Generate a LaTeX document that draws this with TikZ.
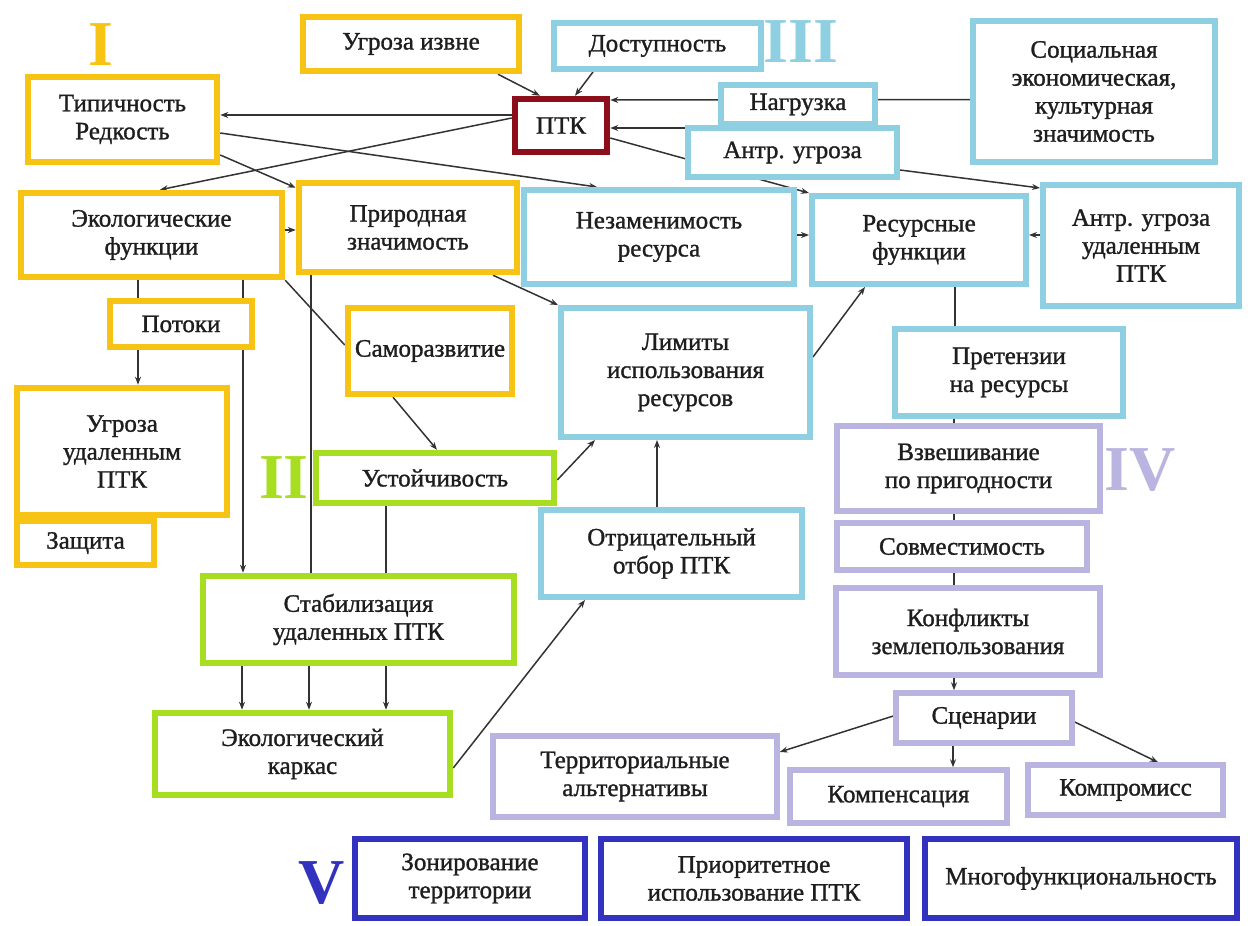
\documentclass[tikz,border=0pt]{standalone}
\usepackage{fontspec}
\setmainfont{Liberation Serif}
\newfontfamily\boxfont[FakeBold=1.2]{Liberation Serif}
\usetikzlibrary{arrows.meta}
\definecolor{cYel}{RGB}{247,196,22}
\definecolor{cGrn}{RGB}{168,222,34}
\definecolor{cLbl}{RGB}{142,207,226}
\definecolor{cLav}{RGB}{186,180,224}
\definecolor{cDbl}{RGB}{50,50,190}
\definecolor{cRed}{RGB}{140,14,26}
\definecolor{cTxt}{RGB}{30,30,30}
\pgfdeclarelayer{bg}
\pgfsetlayers{bg,main}
\newcommand\txtsize{\boxfont\fontsize{25}{28}\selectfont}
\newcommand\mkbox[7]{\node[#6, minimum width={#4-#2-6}, minimum height={#5-#3-6}] (#1) at ({(#2+#4)/2},{(#3+#5)/2}) {#7};}
\tikzset{
  base/.style={draw, fill=white, align=center, inner sep=1pt, font=\txtsize, text=cTxt},
  yel/.style={base, draw=cYel, line width=6.5pt},
  grn/.style={base, draw=cGrn, line width=6.5pt},
  lbl/.style={base, draw=cLbl, line width=6pt},
  lav/.style={base, draw=cLav, line width=5.5pt},
  dbl/.style={base, draw=cDbl, line width=5.5pt},
  red/.style={base, draw=cRed, line width=6.5pt},
  conn/.style={line width=1.5pt, draw=black!80},
  arr/.style={conn, -{Stealth[length=8pt,width=6pt]}},
  roman/.style={font=\bfseries\fontsize{64}{64}\selectfont, inner sep=0pt}
}
\begin{document}
\begin{tikzpicture}[x=1pt,y=-1pt]
\useasboundingbox (0,0) rectangle (1248,926);
% Group I
\mkbox{ugr}{300}{14}{522}{74}{yel}{Угроза извне}
\mkbox{tip}{25}{74}{220}{165}{yel}{Типичность\\Редкость}
\mkbox{eko}{18}{190}{285}{280}{yel}{Экологические\\функции}
\mkbox{pri}{296}{180}{520}{275}{yel}{Природная\\значимость}
\mkbox{pot}{107}{298}{255}{350}{yel}{Потоки}
\mkbox{sam}{345}{305}{515}{397}{yel}{Саморазвитие}
\mkbox{ugu}{14}{385}{230}{518}{yel}{Угроза\\удаленным\\ПТК}
\mkbox{zas}{14}{518}{157}{568}{yel}{Защита}
% Group II
\mkbox{ust}{313}{450}{557}{506}{grn}{Устойчивость}
\mkbox{sta}{200}{573}{517}{666}{grn}{Стабилизация\\удаленных ПТК}
\mkbox{kar}{152}{710}{453}{798}{grn}{Экологический\\каркас}
% center
\mkbox{ptk}{512}{96}{610}{155}{red}{ПТК}
% Group III
\mkbox{dos}{551}{20}{764}{72}{lbl}{Доступность}
\mkbox{ant}{685}{125}{900}{180}{lbl}{Антр. угроза}
\mkbox{nag}{718}{82}{878}{127}{lbl}{Нагрузка}
\mkbox{soc}{970}{18}{1218}{165}{lbl}{Социальная\\экономическая,\\культурная\\значимость}
\mkbox{nez}{521}{187}{797}{287}{lbl}{Незаменимость\\ресурса}
\mkbox{res}{809}{193}{1029}{287}{lbl}{Ресурсные\\функции}
\mkbox{auu}{1040}{182}{1242}{309}{lbl}{Антр. угроза\\удаленным\\ПТК}
\mkbox{lim}{558}{305}{813}{440}{lbl}{Лимиты\\использования\\ресурсов}
\mkbox{pre}{892}{326}{1126}{419}{lbl}{Претензии\\на ресурсы}
\mkbox{otr}{538}{507}{805}{600}{lbl}{Отрицательный\\отбор ПТК}
% Group IV
\mkbox{vzv}{834}{423}{1103}{514}{lav}{Взвешивание\\по пригодности}
\mkbox{sov}{834}{520}{1090}{573}{lav}{Совместимость}
\mkbox{kon}{833}{585}{1103}{678}{lav}{Конфликты\\землепользования}
\mkbox{sce}{893}{690}{1075}{746}{lav}{Сценарии}
\mkbox{ter}{490}{733}{780}{820}{lav}{Территориальные\\альтернативы}
\mkbox{kom}{787}{767}{1010}{826}{lav}{Компенсация}
\mkbox{kmp}{1025}{762}{1226}{818}{lav}{Компромисс}
% Group V
\mkbox{zon}{352}{836}{588}{921}{dbl}{Зонирование\\территории}
\mkbox{pri2}{598}{836}{910}{921}{dbl}{Приоритетное\\использование ПТК}
\mkbox{mno}{922}{836}{1240}{921}{dbl}{Многофункциональность}
% Roman numerals
\node[roman, text=cYel] (rI) at (101,45) {I};
\node[roman, text=cGrn] (rII) at (284,478) {II};
\node[roman, text=cLbl] (rIII) at (801,42) {III};
\node[roman, text=cLav] (rIV) at (1140,470) {IV};
\node[roman, text=cDbl] (rV) at (322,883) {V};
\begin{pgfonlayer}{bg}
\draw[arr] ([xshift=87pt]ugr.south) -- ([xshift=-21pt]ptk.north);
\draw[arr] ([xshift=-64.5pt]dos.south) -- ([xshift=14pt]ptk.north);
\draw[arr] ([yshift=-8pt]soc.west) -- ([yshift=25.5pt]ptk.east);
\draw[arr] ([yshift=24.5pt]ant.west) -- ([yshift=-2.5pt]ptk.east);
\draw[arr] ([yshift=-12.5pt]ptk.east) -- (res.north west);
\draw[arr] ([yshift=-17.5pt]ant.east) -- ([yshift=-6pt]auu.north west);
\draw[arr] ([yshift=10.5pt]auu.west) -- ([yshift=5pt]res.east);
\draw[arr] ([yshift=2pt]nez.east) -- ([yshift=5pt]res.west);
\draw[arr] ([yshift=10.5pt]ptk.west) -- ([yshift=4.5pt]tip.east);
\draw[arr] ([yshift=7.5pt]ptk.west) -- ([xshift=8.5pt]eko.north);
\draw[arr] ([yshift=-13.5pt]tip.east) -- ([xshift=-62pt]nez.north);
\draw[arr] ([yshift=-35.5pt]tip.east) -- ([yshift=-8pt]pri.north west);
\draw[arr] ([yshift=5pt]eko.east) -- ([yshift=-2.5pt]pri.west);
\draw[arr] ([xshift=85pt]pri.south) -- (lim.north west);
\draw[conn] (eko.south east) -- ([yshift=6pt]sam.west);
\draw[arr] ([xshift=-13.5pt]eko.south) -- ([xshift=16pt]ugu.north);
\draw[arr] ([xshift=91.5pt]eko.south) -- ([xshift=-115.5pt]sta.north);
\draw[conn] ([xshift=-97pt]pri.south) -- ([xshift=-47.5pt]sta.north);
\draw[arr] ([xshift=-37pt]sam.south) -- ([xshift=2pt]ust.north);
\draw[conn] ([xshift=-49pt]ust.south) -- ([xshift=27.5pt]sta.north);
\draw[arr] ([yshift=-2pt]ust.east) -- ([xshift=-90.5pt]lim.south);
\draw[arr] ([xshift=-14.5pt]otr.north) -- ([xshift=-28.5pt]lim.south);
\draw[arr] ([yshift=15.5pt]lim.east) -- ([xshift=-54pt]res.south);
\draw[conn] ([xshift=36pt]res.south) -- ([xshift=-54pt]pre.north);
\draw[conn] ([xshift=-55pt]pre.south) -- ([xshift=-14.5pt]vzv.north);
\draw[conn] ([xshift=-14.5pt]vzv.south) -- ([xshift=-8pt]sov.north);
\draw[conn] ([xshift=-8pt]sov.south) -- ([xshift=-14pt]kon.north);
\draw[arr] ([xshift=-14pt]kon.south) -- ([xshift=-30pt]sce.north);
\draw[arr] ([xshift=-116.5pt]sta.south) -- ([xshift=-60.5pt]kar.north);
\draw[arr] ([xshift=-49.5pt]sta.south) -- ([xshift=6.5pt]kar.north);
\draw[arr] ([xshift=27.5pt]sta.south) -- ([xshift=83.5pt]kar.north);
\draw[arr] ([yshift=-14pt]kar.east) -- ([xshift=-86.5pt]otr.south);
\draw[arr] ([yshift=2pt]sce.west) -- ([yshift=24.5pt]ter.east);
\draw[arr] ([xshift=-31pt]sce.south) -- ([xshift=54.5pt]kom.north);
\draw[arr] ([yshift=-4pt]sce.east) -- ([xshift=32.5pt]kmp.north);
\end{pgfonlayer}
\end{tikzpicture}
\end{document}
